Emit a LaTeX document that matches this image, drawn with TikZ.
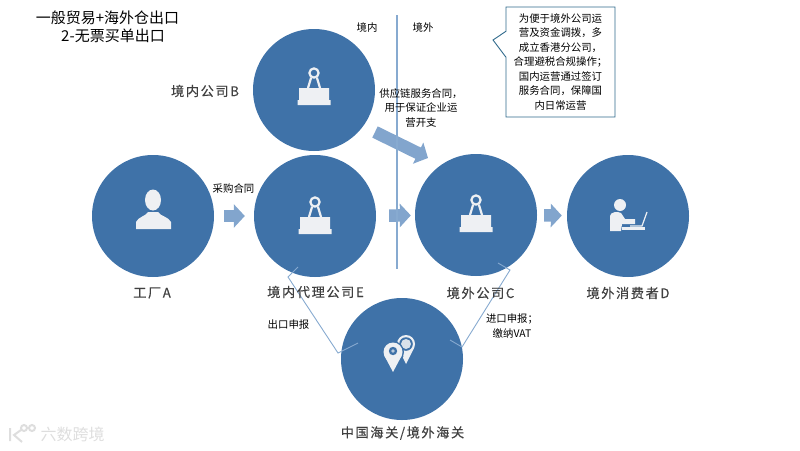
\documentclass[tikz,border=0pt]{standalone}
\usepackage{fontspec}
\setmainfont{Noto Sans CJK SC}
\newfontfamily\nameFont[LetterSpace=12,FakeBold=0.35]{Noto Sans CJK SC}
\usetikzlibrary{arrows.meta,shapes.callouts}
\definecolor{myblue}{RGB}{63,114,168}
\definecolor{myarrow}{RGB}{130,165,205}
\definecolor{myline}{RGB}{135,170,208}
\definecolor{myicon}{RGB}{238,240,243}
\definecolor{myteal}{RGB}{48,106,140}
\definecolor{mytext}{RGB}{64,64,64}
\definecolor{mymark}{RGB}{222,222,222}
\tikzset{
		hub/.style = 	{circle, fill=myblue, minimum size=122, inner sep=0},
		flow/.style = 	{draw=myarrow, line width=12.5, -{Triangle[length=11,width=23]}},
		link/.style = 	{draw=myline, line width=0.9},
		smallText/.style = 	{font=\fontsize{10.4}{14.5}\selectfont, align=center, inner sep=0},
		titleText/.style = 	{font=\fontsize{15}{18}\selectfont, inner sep=0},
		nameText/.style = 	{font=\fontsize{13.2}{15}\selectfont\nameFont, text=mytext, inner sep=0},
		clipicon/.pic = {
			\fill[myicon] (-15,-2) -- (15,-2) -- (15,10) -- (16.5,10) -- (16.5,15) -- (-16.5,15) -- (-16.5,10) -- (-15,10) -- cycle;
			\draw[myicon, line width=2.2] (-6,-2) -- (-3,-12) (6,-2) -- (3,-12) (0,-17) circle (4.6);
		},
		pinicon/.pic = {
			\fill[myicon] (13,-15) circle (9);
			\fill[myicon] (5,-11) -- (13,5) -- (21,-11) -- cycle;
			\fill[myblue] (13,-15) circle (6.8);
			\fill[myicon!88!myblue] (13,-15) circle (5);
			\fill[myblue] (0,-7) circle (11);
			\fill[myblue] (-10,-3) -- (0,16) -- (10.5,-3) -- cycle;
			\fill[myicon] (0,-7) circle (9.5);
			\fill[myicon] (-8.5,-3) -- (0,13) -- (8.5,-3) -- cycle;
			\fill[myblue] (0,-8) circle (4.2);
			\fill[myicon!70!myblue] (0,-8) circle (1.8);
		}
}

\begin{document}
\begin{tikzpicture}[x=1pt,y=-1pt]
  \useasboundingbox (0,0) rectangle (800,450);

  \foreach \id/\x/\y in {factoryA/153/216,companyB/314/90,agentE/315/216,companyC/476/215,buyerD/628/216,customs/402/359}
    \node [hub] (\id) at (\x,\y) {};

  \coordinate (cornerE) at (288,277);
  \coordinate (cornerW) at (338,353);
  \coordinate (stubW) at (358,343);
  \coordinate (cornerC) at (510,270);
  \coordinate (cornerS) at (462,347);
  \coordinate (stubC) at (450,340);
  \coordinate (stubE) at (298,267);
  \coordinate (stubO) at (498,263);
  \coordinate (lineTop) at (397,15);
  \coordinate (lineEnd) at (397,269);
  \coordinate (flowFrom) at (375,132);
  \coordinate (flowTo) at (428,158);
  \coordinate (calloutTip) at (493,40);

  \draw [flow, shorten <=10, shorten >=9] (factoryA) -- (agentE);
  \draw [flow, shorten <=13, shorten >=4] (agentE) -- (companyC);
  \draw [flow, shorten <=7, shorten >=5] (companyC) -- (buyerD);
  \draw [flow] (flowFrom) -- (flowTo);

  \draw [link, line width=1.2] (lineTop) -- (lineEnd);
  \draw [link] (stubE) -- (cornerE) -- (cornerW) -- (stubW);
  \draw [link] (stubO) -- (cornerC) -- (cornerS) -- (stubC);

  % icons
  \pic at (314,90) {clipicon};
  \pic at (315,219) {clipicon};
  \pic at (476,217) {clipicon};
  \pic at (393,359) {pinicon};
  \fill [myicon] (153,200) ellipse (8 and 10.5);
  \fill [myicon] (136,229) -- (136,222) .. controls (138,217) and (146,216) .. (148,212) -- (158,212) .. controls (160,216) and (169,217) .. (171,222) -- (171,229) -- cycle;
  \fill [myicon] (620,205) circle (6);
  \fill [myicon] (610,231) -- (610,216) .. controls (610,212) and (618,211) .. (621,213) -- (625,219) -- (635,219) -- (635,224) -- (622,224) -- (621,231) -- cycle;
  \fill [myicon] (622,227) rectangle (645,230);
  \draw [myicon, line width=1.2] (647,212) -- (642,226) -- (630,226);

  % texts
  \node [titleText] (titleOne) at (107.5,18) {一般贸易+海外仓出口};
  \node [titleText] (titleTwo) at (113,36) {2-无票买单出口};
  \node [smallText] (inside) at (367,28) {境内};
  \node [smallText] (outside) at (423,28) {境外};
  \node [smallText] (purchase) at (233.5,189) {采购合同};
  \node [smallText] (service) at (421,108) {供应链服务合同，\\用于保证企业运\\营开支};
  \node [smallText] (exportDecl) at (288.5,325) {出口申报};
  \node [smallText] (importDecl) at (512,326) {进口申报；\\缴纳VAT};
  \node [rectangle callout, draw=myteal, fill=white, line width=0.9, smallText, minimum width=109, minimum height=110, callout pointer width=26, callout absolute pointer={(calloutTip)}] (note) at (560.5,62) {为便于境外公司运\\营及资金调拨，多\\成立香港分公司，\\合理避税合规操作；\\国内运营通过签订\\服务合同，保障国\\内日常运营};

  \node [nameText] (nameB) at (205,91) {境内公司B};
  \node [nameText] (nameA) at (152,293) {工厂A};
  \node [nameText] (nameE) at (315.5,292) {境内代理公司E};
  \node [nameText] (nameC) at (480.5,293) {境外公司C};
  \node [nameText] (nameD) at (628,293) {境外消费者D};
  \node [nameText] (nameCustoms) at (402.5,433) {中国海关/境外海关};

  % watermark
  \node [inner sep=0, text=mymark, font=\fontsize{16}{18}\selectfont] (mark) at (72.5,434) {六数跨境};
  \draw [mymark, line width=2] (10,428) -- (10,441) (21,430) -- (14,435) -- (22,442) (24,428) circle (3) (32,428) circle (3);
\end{tikzpicture}
\end{document}
